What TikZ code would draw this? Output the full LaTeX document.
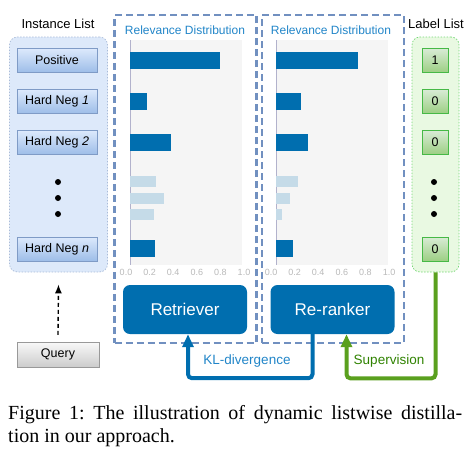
\documentclass[tikz,border=0pt]{standalone}
\usepackage{fontspec}
\setmainfont{Liberation Serif}
\setsansfont{Liberation Sans}
\usetikzlibrary{arrows.meta}
\definecolor{bardark}{HTML}{006EAF}
\definecolor{barlight}{HTML}{C5DBE8}
\definecolor{frameblue}{HTML}{7190C0}
\definecolor{titleblue}{HTML}{2185C8}
\definecolor{supgreen}{HTML}{5AA01E}
\definecolor{suptext}{HTML}{2F8200}
\definecolor{insttop}{HTML}{DCE9FC}
\definecolor{instbot}{HTML}{9DBDE8}
\definecolor{instback}{HTML}{DDE9FA}
\definecolor{labtop}{HTML}{D8EBD5}
\definecolor{labbot}{HTML}{9CCF83}
\definecolor{labback}{HTML}{E9F9E2}
\tikzset{>=latex}
\tikzset{
  listbox/.style = {rounded corners=8pt, line width=0.7pt, dash pattern=on 1.5pt off 1.5pt},
  instbox/.style = {draw=frameblue!90, top color=insttop, bottom color=instbot,
    minimum width=80pt, minimum height=24pt, font=\sffamily\fontsize{12.5}{14}\selectfont},
  labbox/.style = {draw=green!45!gray, top color=labtop, bottom color=labbot,
    minimum width=26pt, minimum height=24pt, font=\sffamily\fontsize{12.5}{14}\selectfont},
  modelframe/.style = {draw=frameblue, line width=2.2pt, dash pattern=on 7pt off 4pt,
    minimum width=142pt, minimum height=328pt},
  model/.style = {fill=bardark, text=white, rounded corners=7pt, minimum width=124pt,
    minimum height=49pt, font=\sffamily\fontsize{17}{20}\selectfont},
  flow/.style = {line width=4pt, rounded corners=4pt, -{Triangle[width=11pt,length=13pt]}},
  tick/.style = {text=gray!55, font=\sffamily\fontsize{9}{10}\selectfont},
  dot/.style = {circle, fill, inner sep=0pt, minimum size=6pt}
}

\begin{document}
\begin{tikzpicture}[x=1pt,y=-1pt]
  \useasboundingbox (0,0) rectangle (470,453);
  \sffamily
  % instance list
  \node[font=\fontsize{13}{15}\selectfont] (insttitle) at (58,24) {Instance List};
  \node[listbox, draw=frameblue!60, fill=instback, minimum width=98pt, minimum height=235pt] (inst) at (58.5,154.5) {};
  \node[instbox] (pos) at (57,60.5) {Positive};
  \node[instbox] (neg1) at (57,101.5) {Hard Neg \textit{1}};
  \node[instbox] (neg2) at (57,142.5) {Hard Neg \textit{2}};
  \node[instbox] (negn) at (57,249) {Hard Neg \textit{n}};
  \foreach \y in {182,198,214} \node[dot] at (58,\y) {};
  \node[draw=gray!80, top color=gray!5, bottom color=gray!40, minimum width=82pt, minimum height=25pt,
    font=\fontsize{12.5}{14}\selectfont] (query) at (58,354.5) {Query};
  \draw[-{Latex[width=7pt,length=9pt]},line width=1.4pt,dash pattern=on 4pt off 3pt] ([yshift=7pt]query.north) -- ([yshift=-12pt]inst.south);

  % label list
  \node[font=\fontsize{13}{15}\selectfont] (labtitle) at (436,24) {Label List};
  \node[listbox, draw=green!55!gray!70, fill=labback, minimum width=47pt, minimum height=235pt] (labels) at (435.5,154.5) {};
  \node[labbox] (lab1) at (435,60.5) {1};
  \node[labbox] (lab2) at (435,101.5) {0};
  \node[labbox] (lab3) at (435,142.5) {0};
  \node[labbox] (labn) at (435,249) {0};
  \foreach \y in {182,198,214} \node[dot] at (434,\y) {};

  % relevance distributions
  \node[modelframe] (retframe) at (185.5,179) {};
  \node[modelframe] (rerframe) at (333,179) {};
  \foreach \x/\lx in {130/126,276/271} {
    \fill[gray!8] (\x,40) rectangle +(112,225);
    \draw[blue!20!gray!50] (\x,40) -- (\x,265);
    \node[text=titleblue, font=\fontsize{12}{14}\selectfont] at (\x+55,30) {Relevance Distribution};
    \foreach \t [count=\i from 0] in {0.0,0.2,0.4,0.6,0.8,1.0}
      \node[tick] at (\lx+\i*23.6,272) {\t};
  }
  % dark bars then light bars
  \foreach \y/\a/\b in {60.5/0.80/0.73, 101.5/0.15/0.22, 142.5/0.37/0.29, 248.5/0.22/0.15} {
    \fill[bardark] (130,\y-8.5) rectangle +(\a*112,17);
    \fill[bardark] (276,\y-8.5) rectangle +(\b*112,17);
  }
  \foreach \y/\a/\b in {181.5/0.23/0.20, 198.5/0.30/0.125, 214.5/0.21/0.05} {
    \fill[barlight] (130,\y-5.5) rectangle +(\a*112,11);
    \fill[barlight] (276,\y-5.5) rectangle +(\b*112,11);
  }

  % models
  \node[model] (retr) at (185,309.5) {Retriever};
  \node[model] (rerank) at (332.5,309.5) {Re-ranker};
  \draw[flow,bardark] ([xshift=-20pt]rerank.south) -- ++(0,44) -| ([xshift=3pt]retr.south);
  \draw[flow,supgreen] (labels.south) -- ++(0,106) -| ([xshift=14pt]rerank.south);
  \node[text=titleblue, font=\fontsize{13.5}{15}\selectfont] (kl) at (247,361) {KL-divergence};
  \node[text=suptext, font=\fontsize{13.5}{15}\selectfont] (sup) at (389,361) {Supervision};

  % caption
  \node[anchor=north west, text width=454pt, align=justify, inner sep=0pt, font=\rmfamily\fontsize{20}{23}\selectfont] (cap) at (8,405.5)
    {Figure 1:\ The illustration of dynamic listwise distilla-\linebreak tion in our approach.};
\end{tikzpicture}
\end{document}
